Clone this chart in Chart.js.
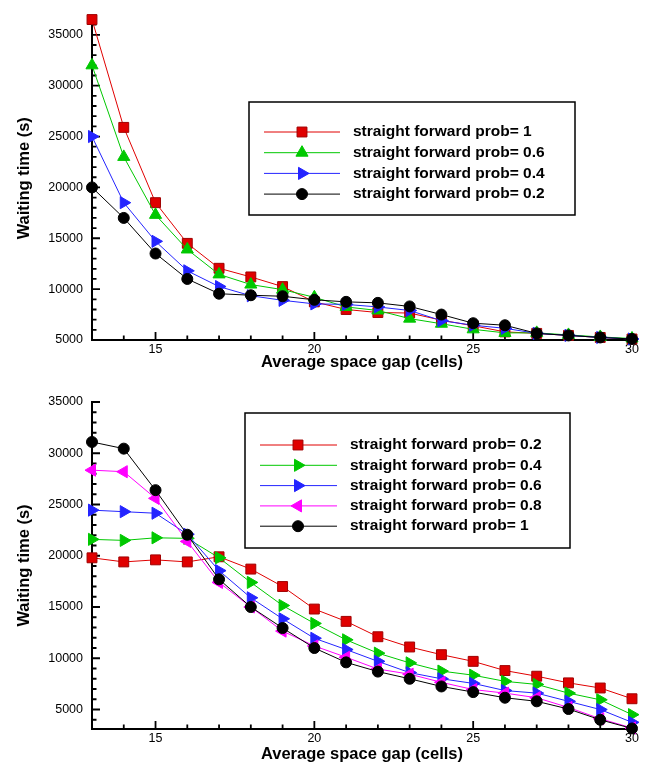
<!DOCTYPE html>
<html>
<head>
<meta charset="utf-8">
<script src="https://cdn.jsdelivr.net/npm/chart.js@4.4.1/dist/chart.umd.min.js"></script>
<style>
  html, body { margin: 0; padding: 0; background: #fff; }
  canvas { position: absolute; left: 0; }
  #topChart { top: 0; }
  #bottomChart { top: 380px; }
</style>
</head>
<body>
<canvas id="topChart" width="647" height="372"></canvas>
<canvas id="bottomChart" width="647" height="384"></canvas>
<script>
// average space gap (cells)
const gaps = [13, 14, 15, 16, 17, 18, 19, 20, 21, 22, 23, 24, 25, 26, 27, 28, 29, 30];
const xTicks = [15, 20, 25, 30];
const yTicks = [5000, 10000, 15000, 20000, 25000, 30000, 35000];

// upper panel: waiting time (s)
const topProb1  = [36500, 25900, 18500, 14500, 12050, 11200, 10250, 8750, 8000, 7700, 7650, 6950, 6400, 5800, 5650, 5450, 5250, 5100];
const topProb06 = [32000, 23000, 17300, 13900, 11450, 10450, 9950, 9200, 8250, 7900, 7100, 6600, 6050, 5700, 5700, 5500, 5300, 5150];
const topProb04 = [25000, 18500, 14700, 11800, 10250, 9350, 8900, 8550, 8500, 8250, 7900, 6900, 6450, 6150, 5650, 5450, 5250, 5100];
const topProb02 = [20000, 17000, 13500, 11000, 9550, 9400, 9300, 8950, 8750, 8650, 8300, 7500, 6650, 6450, 5650, 5450, 5250, 5100];

// lower panel: waiting time (s)
const botProb02 = [19800, 19400, 19600, 19400, 19900, 18700, 17000, 14800, 13600, 12100, 11100, 10350, 9700, 8800, 8250, 7600, 7100, 6050];
const botProb04 = [21600, 21500, 21750, 21700, 19800, 17400, 15150, 13400, 11800, 10500, 9550, 8750, 8350, 7750, 7450, 6600, 5950, 4500];
const botProb06 = [24450, 24300, 24150, 22100, 18550, 15900, 13850, 11950, 10850, 9700, 8600, 8000, 7550, 6850, 6600, 5800, 5000, 3750];
const botProb08 = [28350, 28200, 25600, 21400, 17400, 15000, 12650, 11200, 10100, 8950, 8450, 7650, 6950, 6600, 6150, 5200, 4100, 3200];
const botProb1  = [31100, 30450, 26400, 22050, 17700, 15000, 12950, 11000, 9600, 8700, 8000, 7250, 6700, 6150, 5800, 5050, 4000, 3150];

const FONT = '"Liberation Sans", Arial, Helvetica, sans-serif';
const RED = '#e00000', GREEN = '#00c800', BLUE = '#2424ff', MAGENTA = '#ff00ff', BLACK = '#000000';
const radii = { rect: 7, circle: 5.5, triangle: 7 };

function series(label, values, color, style, rotation) {
    return {
        label: label,
        data: gaps.map((g, i) => ({ x: g, y: values[i] })),
        borderColor: color,
        backgroundColor: color,
        pointBackgroundColor: color,
        pointBorderColor: color === RED ? '#a00000' : color,
        borderWidth: 1,
        pointBorderWidth: 1,
        pointStyle: style,
        pointRotation: rotation || 0,
        pointRadius: radii[style],
        pointHoverRadius: radii[style],
        tension: 0,
        clip: false
    };
}

// inward pointing tick marks, like the original plot
const innerTicks = {
    id: 'innerTicks',
    beforeDatasetsDraw(chart, args, opts) {
        const { ctx, chartArea: a, scales: { x, y } } = chart;
        ctx.save();
        ctx.strokeStyle = '#000';
        ctx.lineWidth = 1.8;
        ctx.beginPath();
        for (let v = Math.ceil(x.min); v <= x.max; v += 1) {
            const px = x.getPixelForValue(v);
            const len = v % 5 === 0 ? 8 : 4.5;
            ctx.moveTo(px, a.bottom);
            ctx.lineTo(px, a.bottom - len);
        }
        for (let v = Math.ceil(y.min / 1000) * 1000; v <= y.max; v += 1000) {
            const py = y.getPixelForValue(v);
            const len = v % 5000 === 0 ? 8 : 4.5;
            ctx.moveTo(a.left, py);
            ctx.lineTo(a.left + len, py);
        }
        ctx.stroke();
        ctx.restore();
    }
};

// framed legend drawn inside the plot
const boxLegend = {
    id: 'boxLegend',
    afterDatasetsDraw(chart, args, o) {
        const ctx = chart.ctx;
        ctx.save();
        ctx.fillStyle = '#fff';
        ctx.fillRect(o.left, o.top, o.right - o.left, o.bottom - o.top);
        ctx.strokeStyle = '#000';
        ctx.lineWidth = 1.5;
        ctx.strokeRect(o.left, o.top, o.right - o.left, o.bottom - o.top);
        chart.data.datasets.forEach((ds, i) => {
            const y = o.firstRow + i * o.rowGap;
            ctx.strokeStyle = ds.borderColor;
            ctx.lineWidth = 1;
            ctx.beginPath();
            ctx.moveTo(o.lineStart, y);
            ctx.lineTo(o.lineEnd, y);
            ctx.stroke();
            ctx.fillStyle = ds.pointBackgroundColor;
            ctx.strokeStyle = ds.pointBorderColor;
            Chart.helpers.drawPoint(ctx, {
                pointStyle: ds.pointStyle,
                rotation: ds.pointRotation,
                radius: ds.pointRadius,
                borderWidth: 1
            }, o.marker, y);
            ctx.fillStyle = '#000';
            ctx.font = 'bold 15.5px ' + FONT;
            ctx.textBaseline = 'middle';
            ctx.textAlign = 'left';
            ctx.fillText(ds.label, o.textX, y);
        });
        ctx.restore();
    }
};

function makeChart(canvasId, datasets, yMin, yMax, pad, legendBox) {
    datasets.forEach((ds, i) => { ds.order = datasets.length - i; });
    return new Chart(document.getElementById(canvasId), {
        type: 'line',
        data: { datasets: datasets },
        plugins: [innerTicks, boxLegend],
        options: {
            responsive: false,
            animation: false,
            events: [],
            layout: { padding: { top: pad.top, right: 15, bottom: 0, left: 0 } },
            plugins: {
                legend: { display: false },
                tooltip: { enabled: false },
                boxLegend: legendBox
            },
            scales: {
                x: {
                    type: 'linear',
                    min: 13,
                    max: 30,
                    afterBuildTicks: s => { s.ticks = xTicks.map(v => ({ value: v })); },
                    afterFit: s => { s.height = pad.xHeight; },
                    grid: { display: false, drawTicks: false },
                    border: { display: true, color: '#000', width: 2 },
                    ticks: {
                        padding: 2,
                        color: '#000',
                        font: { family: FONT, size: 12.5 },
                        callback: v => String(v),
                        maxRotation: 0
                    },
                    title: {
                        display: true,
                        text: 'Average space gap (cells)',
                        color: '#000',
                        font: { family: FONT, size: 16.5, weight: 'bold' },
                        padding: { top: 0, bottom: 0 }
                    }
                },
                y: {
                    type: 'linear',
                    min: yMin,
                    max: yMax,
                    afterBuildTicks: s => { s.ticks = yTicks.filter(v => v >= yMin && v <= yMax).map(v => ({ value: v })); },
                    afterFit: s => { s.width = 92; },
                    grid: { display: false, drawTicks: false },
                    border: { display: true, color: '#000', width: 2 },
                    ticks: {
                        padding: 9,
                        color: '#000',
                        font: { family: FONT, size: 12.5 },
                        callback: v => String(v)
                    },
                    title: {
                        display: true,
                        text: 'Waiting time (s)',
                        color: '#000',
                        font: { family: FONT, size: 16.5, weight: 'bold' },
                        padding: { top: 15, bottom: 0 }
                    }
                }
            }
        }
    });
}

makeChart('topChart', [
    series('straight forward prob= 1', topProb1, RED, 'rect'),
    series('straight forward prob= 0.6', topProb06, GREEN, 'triangle'),
    series('straight forward prob= 0.4', topProb04, BLUE, 'triangle', 90),
    series('straight forward prob= 0.2', topProb02, BLACK, 'circle')
], 5000, 36800, { top: 13, xHeight: 32 }, {
    left: 249, top: 102, right: 575, bottom: 215,
    firstRow: 132, rowGap: 20.7, lineStart: 264, lineEnd: 340, marker: 302, textX: 353
});

makeChart('bottomChart', [
    series('straight forward prob= 0.2', botProb02, RED, 'rect'),
    series('straight forward prob= 0.4', botProb04, GREEN, 'triangle', 90),
    series('straight forward prob= 0.6', botProb06, BLUE, 'triangle', 90),
    series('straight forward prob= 0.8', botProb08, MAGENTA, 'triangle', -90),
    series('straight forward prob= 1', botProb1, BLACK, 'circle')
], 3100, 35000, { top: 22, xHeight: 35 }, {
    left: 245, top: 33, right: 570, bottom: 168,
    firstRow: 65, rowGap: 20.3, lineStart: 260, lineEnd: 337, marker: 298, textX: 350
});
</script>
</body>
</html>
